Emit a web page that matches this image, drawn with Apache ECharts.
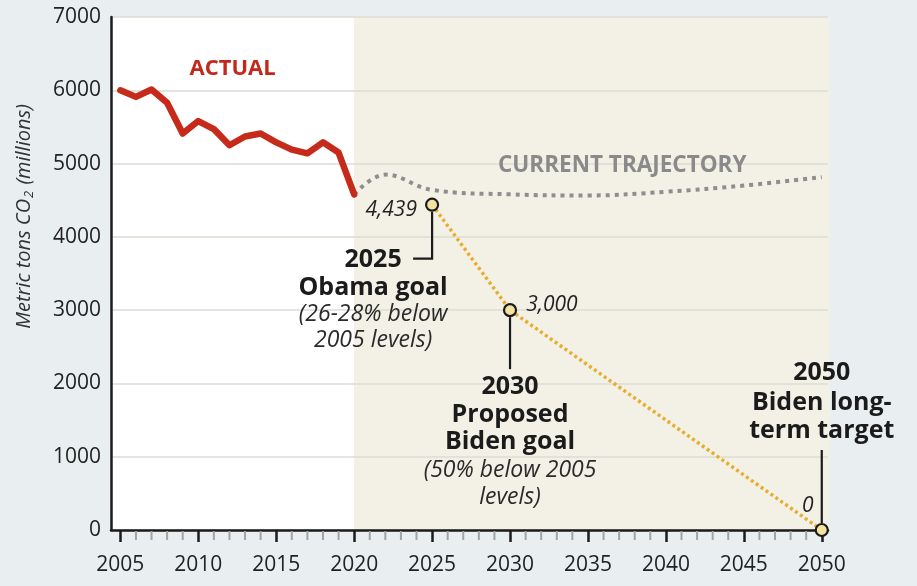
<!DOCTYPE html>
<html>
<head>
<meta charset="utf-8">
<script src="https://cdn.jsdelivr.net/npm/echarts@6/dist/echarts.min.js"></script>
<style>
html, body { margin: 0; padding: 0; background: #e9eff0; }
#chart { width: 917px; height: 586px; }
</style>
</head>
<body>
<div id="chart"></div>
<script>
// actual emissions, 2005-2020
const years = [2005, 2006, 2007, 2008, 2009, 2010, 2011, 2012, 2013, 2014, 2015, 2016, 2017, 2018, 2019, 2020]
const actual = [6000, 5910, 6010, 5830, 5410, 5580, 5470, 5250, 5370, 5410, 5290, 5190, 5140, 5290, 5150, 4580]

// current trajectory (dotted grey)
const trajYears = [2020, 2022, 2025, 2030, 2035, 2040, 2045, 2050]
const trajValues = [4580, 4850, 4640, 4580, 4565, 4615, 4700, 4815]

// goals (dotted orange)
const goalYears = [2025, 2030, 2050]
const goalValues = [4439, 3000, 0]
const goalLabels = ['4,439', '3,000', '0']

// axis ticks
const xTicks = [2005, 2010, 2015, 2020, 2025, 2030, 2035, 2040, 2045, 2050]
const yTicks = [0, 1000, 2000, 3000, 4000, 5000, 6000, 7000]

const font = "'Open Sans', 'Noto Sans', sans-serif"
const ink = '#1b1b1b'

// every year for the small grey ticks
const minorYears = []
for (let y = 2005; y <= 2050; y++) {
    if (y % 5 !== 0) {
        minorYears.push(y)
    }
}

// label placement for the goal points (style only)
const goalLabelStyle = [
    { position: 'left', distance: 8, offset: [0, 5] },
    { position: 'right', distance: 9, offset: [0, -5] },
    { position: 'top', distance: 6, offset: [-14, 0] },
]

const pairs = function (xs, ys) {
    let out = []
    for (let i = 0; i < xs.length; i++) {
        out.push([xs[i], ys[i]])
    }
    return out
}

const chart = echarts.init(document.getElementById('chart'))

const option = {
    backgroundColor: 'transparent',
    animation: false,
    grid: { left: 111, right: 89, top: 17, bottom: 56 },
    xAxis: {
        type: 'value',
        min: 2004.4,
        max: 2050.4,
        axisLine: { show: true, lineStyle: { color: ink, width: 2.5 } },
        axisTick: { show: true, customValues: xTicks, length: 12, lineStyle: { color: ink, width: 2.5 } },
        axisLabel: {
            customValues: xTicks,
            formatter: v => String(v),
            fontFamily: font, fontSize: 21, color: '#222', margin: 25,
        },
        splitLine: { show: false },
    },
    yAxis: {
        type: 'value',
        min: 0,
        max: 7000,
        axisLine: { show: true, lineStyle: { color: ink, width: 2.5 } },
        axisTick: { show: false },
        axisLabel: {
            customValues: yTicks,
            formatter: v => String(v),
            fontFamily: font, fontSize: 21, color: '#222', margin: 10,
        },
        splitLine: { show: true, lineStyle: { color: '#dcdcd6', width: 1.5 } },
        name: 'Metric tons CO{s|2} (millions)',
        nameLocation: 'middle',
        nameRotate: 90,
        nameGap: 75,
        nameTextStyle: {
            fontFamily: font,
            fontStyle: 'italic',
            fontSize: 20,
            color: '#333',
            padding: [0, 0, 0, 114],
            rich: {
                s: { fontFamily: font, fontStyle: 'italic', fontSize: 13, color: '#333', padding: [10, 1, 0, 1] },
            },
        },
    },
    series: [
        {
            name: 'trajectory',
            type: 'line',
            data: pairs(trajYears, trajValues),
            smooth: 0.4,
            symbol: 'none',
            lineStyle: { color: '#8e8e8e', width: 4, type: [4, 5] },
            z: 3,
        },
        {
            name: 'actual',
            type: 'line',
            data: pairs(years, actual),
            symbol: 'none',
            lineStyle: { color: '#c62a1b', width: 6.5, join: 'round', cap: 'round' },
            z: 4,
        },
        {
            name: 'goals',
            type: 'line',
            data: goalYears.map((y, i) => ({ value: [y, goalValues[i]], label: goalLabelStyle[i] })),
            symbol: 'circle',
            symbolSize: 12,
            itemStyle: { color: '#f2e3a0', borderColor: ink, borderWidth: 2.2 },
            lineStyle: { color: '#e8ad2f', width: 3.5, type: [3, 3] },
            label: {
                show: true,
                formatter: p => goalLabels[p.dataIndex],
                fontFamily: font,
                fontStyle: 'italic',
                fontSize: 21,
                color: '#222',
            },
            z: 5,
        },
    ],
}

chart.setOption(option)

// annotation blocks, offsets in pixels from each goal point
const notes = [
    {
        dx: -59, bold: ['2025', 'Obama goal'], boldY: [55, 83],
        italic: ['(26-28% below', '2005 levels)'], italicY: [110, 136],
        leader: [[0, 7], [0, 54], [-19, 54]],
    },
    {
        dx: 0, bold: ['2030', 'Proposed', 'Biden goal'], boldY: [77, 105, 132],
        italic: ['(50% below 2005', 'levels)'], italicY: [160, 187],
        leader: [[0, 7], [0, 59]],
    },
    {
        dx: 0, bold: ['2050', 'Biden long-', 'term target'], boldY: [-157, -127, -99],
        italic: [], italicY: [],
        leader: [[0, -80], [0, -7]],
    },
]

const toPx = function (x, y) {
    return chart.convertToPixel({ xAxisIndex: 0, yAxisIndex: 0 }, [x, y])
}

const textEl = function (text, x, y, style) {
    return {
        type: 'text',
        x: x,
        y: y,
        z: 10,
        style: Object.assign({ text: text, fill: ink, align: 'center', verticalAlign: 'middle' }, style),
    }
}

const buildGraphics = function () {
    let els = []
    // shaded backgrounds
    let a = toPx(2004.4, 7000)
    let b = toPx(2020, 0)
    let c = toPx(2050.4, 0)
    els.push({ type: 'rect', z: -10, shape: { x: a[0], y: a[1], width: b[0] - a[0], height: b[1] - a[1] }, style: { fill: '#ffffff' } })
    els.push({ type: 'rect', z: -10, shape: { x: b[0], y: a[1], width: c[0] - b[0] + 2, height: b[1] - a[1] }, style: { fill: '#f3f1e6' } })

    // small yearly ticks under the axis
    for (let y of minorYears) {
        let p = toPx(y, 0)
        els.push({
            type: 'rect', z: 1,
            shape: { x: p[0] - 1, y: p[1] + 1, width: 2, height: 9 },
            style: { fill: '#a3a3a3' },
        })
    }

    // series titles
    let act = toPx(2012.2, 6290)
    els.push(textEl('ACTUAL', act[0], act[1], { fill: '#c2281c', font: `bold 22px ${font}` }))
    let cur = toPx(2037.2, 4975)
    els.push(textEl('CURRENT TRAJECTORY', cur[0], cur[1], { fill: '#8a8a8a', font: `bold 22.5px ${font}` }))

    // goal annotations
    for (let i = 0; i < notes.length; i++) {
        let n = notes[i]
        let p = toPx(goalYears[i], goalValues[i])
        n.bold.forEach((t, k) => {
            els.push(textEl(t, p[0] + n.dx, p[1] + n.boldY[k], { font: `bold 25px ${font}` }))
        })
        n.italic.forEach((t, k) => {
            els.push(textEl(t, p[0] + n.dx, p[1] + n.italicY[k], { font: `italic 23px ${font}`, fill: '#2a2a2a' }))
        })
        els.push({
            type: 'polyline',
            z: 9,
            shape: { points: n.leader.map(d => [p[0] + d[0], p[1] + d[1]]) },
            style: { stroke: ink, lineWidth: 2.2, fill: null },
        })
    }
    return els
}

chart.setOption({ graphic: buildGraphics() })
</script>
</body>
</html>
